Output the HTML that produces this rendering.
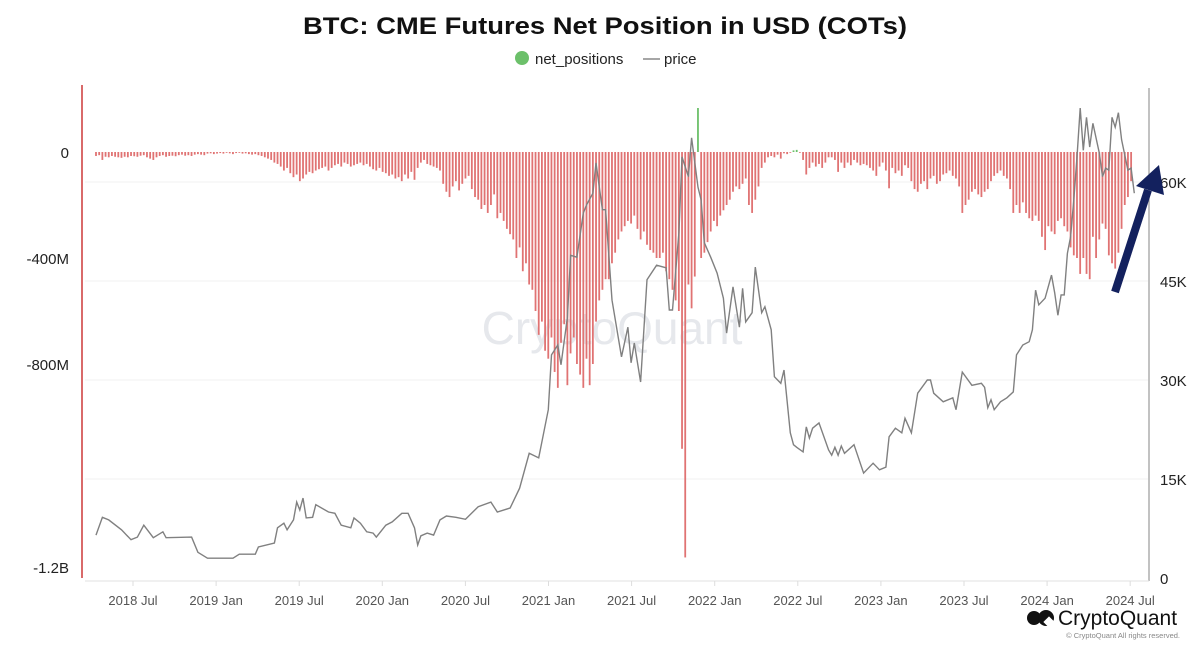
<!DOCTYPE html>
<html><head><meta charset="utf-8"><style>
html,body{margin:0;padding:0;background:#fff;}
svg{display:block;font-family:"Liberation Sans",Arial,sans-serif;}
</style></head><body>
<svg id="chart" width="1200" height="652" viewBox="0 0 1200 652">
<text x="605" y="34" text-anchor="middle" font-size="24" font-weight="bold" fill="#111" textLength="604" lengthAdjust="spacingAndGlyphs">BTC: CME Futures Net Position in USD (COTs)</text>
<g>
<g><circle cx="522" cy="58" r="7" fill="#6cc06a"/><text x="535" y="64" font-size="15" fill="#222">net_positions</text></g>
<g><line x1="643" y1="59" x2="660" y2="59" stroke="#888" stroke-width="1.5"/><text x="664" y="64" font-size="15" fill="#222">price</text></g>
</g>
<g id="grid"></g>
<text x="612" y="344" text-anchor="middle" font-size="46" fill="#e6e8ec">CryptoQuant</text>
<g id="bars"></g>
<path id="priceLine" fill="none" stroke="#808080" stroke-width="1.4"/>
<line x1="82" y1="85" x2="82" y2="578" stroke="#d96a6a" stroke-width="2"/>
<line x1="1149" y1="88" x2="1149" y2="581" stroke="#999" stroke-width="1.2"/>
<line x1="85" y1="581" x2="1149" y2="581" stroke="#e2e2e2" stroke-width="1"/>
<g id="leftTicks"></g>
<g id="rightTicks"></g>
<g id="xTicks"></g>
<g>
<line x1="1115" y1="292" x2="1148" y2="190" stroke="#13215e" stroke-width="8"/>
<polygon points="1159,165 1136,186 1164,195" fill="#13215e"/>
</g>
<g>
<circle cx="1034" cy="618" r="7" fill="#111"/><circle cx="1046" cy="618" r="8" fill="#111"/><rect x="1045" y="618" width="8" height="8" fill="#fff" transform="rotate(45 1049 622)"/>
<text x="1058" y="625" font-size="21" fill="#111">CryptoQuant</text>
<text x="1180" y="638" text-anchor="end" font-size="7.5" fill="#888">© CryptoQuant All rights reserved.</text>
</g>
</svg>
<script>
const barValues = [
-15,-12,-30,-18,-20,-15,-18,-20,-22,-18,-20,-15,-16,-18,-14,-12,-20,-25,-30,-20,-15,-12,-18,-15,-14,-16,-12,-10,-14,-12,-15,-10,-8,-10,-12,-6,-5,-8,-6,
-4,-6,-3,-5,-8,-4,-3,-6,-5,-8,-10,-8,-12,-15,
-20,-25,-30,-40,-45,-55,-70,-60,-80,-95,-85,-110,
-100,-85,-75,-80,-70,-65,-60,-55,-70,-60,-50,-45,-55,-40,-45,-55,-50,-45,-40,-50,-45,-55,-65,-70,-60,-75,
-80,-90,-85,-100,-95,-110,-85,-100,-75,-105,-60,-40,-30,-45,-50,-55,-60,-70,
-120,-150,-170,-130,-110,-145,-120,-100,-90,-140,-170,-180,-215,-200,-230,
-200,-160,-250,-230,-260,-290,-310,-330,-400,-360,-450,-420,-500,
-520,-600,-690,-640,-750,-780,-700,-830,-890,-720,-650,-880,-760,-700,-800,-840,-890,-780,-880,-800,-640,-560,-520,-480,
-480,-420,-380,-330,-300,-280,-260,-270,-240,-290,-330,-300,-350,-370,-380,-400,
-400,-380,-450,-480,-520,-560,-600,-1120,-1530,
-500,-590,-470,166,-400,-380,-340,-300,-260,-280,-240,-220,-200,-180,-150,
-130,-140,-120,-100,-200,-230,-180,-130,-60,-40,-20,-15,-20,-10,-25,
-5,-8,-3,6,8,-2,-30,
-85,-60,-40,-55,-45,-60,-40,-20,-20,-30,-75,-40,-60,-40,-50,-30,-40,-50,-45,-50,-60,-70,-90,
-55,-40,-70,-137,-60,-80,-70,-90,-50,-60,-110,-140,-150,-120,-110,-140,-100,
-90,-120,-110,-85,-80,-70,-90,-100,-130,-230,-200,-180,-150,-140,-160,-170,-150,-140,
-110,-90,-80,-70,-90,-100,-140,-230,-200,-230,-190,-230,
-250,-260,-240,-260,-320,-370,-280,-300,-310,-260,-250,-280,
-300,-360,-390,-400,-460,-400,-460,-480,-320,-400,-330,
-270,-290,-390,-420,-440,-380,-290,-200,-170,-110
];
const priceWeeks = [0,2,4,8,11,13,15,18,21,22,30,32,35,43,45,50,51,56,57,59,60,62,63,64,65,66,68,69,73,75,77,80,81,83,85,87,88,91,93,96,98,100,101,102,104,106,108,110,113,116,120,124,126,130,133,136,139,142,143,145,146,148,149,151,153,154,156,157,159,160,162,165,167,168,169,171,173,176,179,180,181,183,184,186,187,189,190,191,193,195,197,198,200,202,203,204,206,207,209,210,212,213,215,216,218,219,220,222,223,224,225,227,230,231,232,233,234,235,238,241,244,246,248,249,251,253,254,256,258,261,262,263,266,269,270,272,275,278,279,280,281,282,284,286,288,289,291,293,294,295,296,298,300,301,302,303,304,305,306,307,308,309,310,311,312,313,315,316,317,318,319,320,321,322,324,325,326];
const prices = [6.5,9.2,8.8,7.3,5.8,6.2,8.0,6.1,7.0,6.1,6.2,3.9,3.0,3.0,3.6,3.6,4.7,5.3,7.6,8.3,7.3,8.8,11.5,10.3,12.1,9.1,9.2,11.1,10.0,9.8,8.0,7.6,9.1,8.3,7.0,6.8,6.2,8.0,8.5,9.8,9.8,7.6,5.0,6.4,6.8,6.5,8.8,9.4,9.2,8.9,10.8,11.5,10.0,10.6,13.6,18.9,18.2,25.5,33.8,35.3,32.3,39.5,48.9,48.6,55.3,56.5,58.3,62.9,55.8,55.8,42.1,33.5,38.0,32.6,35.6,29.7,45.2,47.4,47.0,40.6,40.6,52.3,63.8,60.8,66.7,59.2,57.3,50.8,48.6,46.2,42.4,37.1,44.1,38.0,43.9,38.8,40.2,47.1,40.2,41.1,37.6,30.5,29.5,31.5,22.0,20.2,19.8,19.1,22.9,21.2,22.7,23.5,19.4,18.6,19.8,18.6,20.0,18.9,20.2,15.9,17.4,16.4,16.8,21.4,22.7,22.0,24.2,22.0,28.0,30.0,30.0,28.0,26.7,27.3,25.5,31.2,29.2,29.5,28.9,25.8,27.0,25.5,26.7,27.3,28.2,33.8,35.3,35.8,37.6,43.6,41.4,42.4,45.9,43.2,39.8,42.9,42.9,49.2,51.7,57.3,63.8,71.2,64.8,69.8,65.3,68.9,64.4,60.8,62.1,61.8,69.8,68.3,70.5,66.4,61.8,62.1,58.3];
const leftTickLabels = ["0","-400M","-800M","-1.2B"];
const rightTickValues = [0,15,30,45,60];
const rightTickLabels = ["0","15K","30K","45K","60K"];
const xTickLabels = ["2018 Jul","2019 Jan","2019 Jul","2020 Jan","2020 Jul","2021 Jan","2021 Jul","2022 Jan","2022 Jul","2023 Jan","2023 Jul","2024 Jan","2024 Jul"];

const NS="http://www.w3.org/2000/svg";
const xW = w => 96 + w*3.185;           // week index -> px
const yBar = v => 152 - v*0.265;        // net position (M USD) -> px
const yPrice = p => 578 - p*6.6;        // price (K USD) -> px
const xHalfYear = i => 133 + i*83.1;    // half-year tick index -> px
function mk(tag, attrs, parent){const e=document.createElementNS(NS,tag);for(const k in attrs)e.setAttribute(k,attrs[k]);parent.appendChild(e);return e;}

const grid=document.getElementById('grid');
[15,30,45,60].forEach(v=>{
  const l=mk('line',{x1:85,x2:1148,y1:yPrice(v),y2:yPrice(v),stroke:'#f0f0f0','stroke-width':1},grid);
  
  
});

const bars=document.getElementById('bars');
barValues.forEach((v,i)=>{
  const y0=yBar(0), y1=yBar(v);
  const r=mk('rect',{x:xW(i)-0.9,y:Math.min(y0,y1),width:1.8,height:Math.max(0.8,Math.abs(y1-y0)),fill:v>=0?'#6cc06a':'#e07373'},bars);
  
  
});

document.getElementById('priceLine').setAttribute('d',prices.map((p,i)=>(i?'L':'M')+xW(priceWeeks[i]).toFixed(1)+','+yPrice(p).toFixed(1)).join(''));

const lt=document.getElementById('leftTicks');
const leftYs=[yBar(0),yBar(-400),yBar(-800),567];
leftTickLabels.forEach((s,i)=>{
  const t=mk('text',{x:69,y:leftYs[i]+6,'text-anchor':'end','font-size':15,fill:'#222'},lt);t.textContent=s;
  
  
});
const rt=document.getElementById('rightTicks');
rightTickValues.forEach((v,i)=>{
  const t=mk('text',{x:1160,y:yPrice(v)+6,'font-size':15,fill:'#222'},rt);t.textContent=rightTickLabels[i];
  
  
});
const xt=document.getElementById('xTicks');
xTickLabels.forEach((s,i)=>{
  const x=xHalfYear(i);
  const l=mk('line',{x1:x,x2:x,y1:581,y2:586,stroke:'#ddd'},xt);
  
  
  const t=mk('text',{x:x,y:605,'text-anchor':'middle','font-size':13,fill:'#555'},xt);t.textContent=s;
  
  
});
</script>
</body></html>
